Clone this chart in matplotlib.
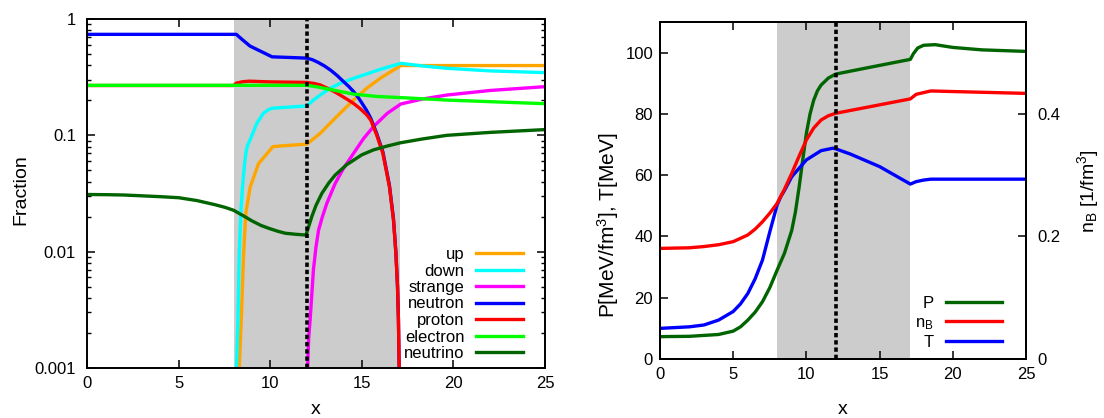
import matplotlib
matplotlib.use("Agg")
import matplotlib.pyplot as plt
from matplotlib.ticker import LogLocator, NullFormatter

plt.rcParams['font.family'] = ['Liberation Sans', 'DejaVu Sans']
plt.rcParams['mathtext.fontset'] = 'custom'
plt.rcParams['mathtext.rm'] = 'Liberation Sans'
plt.rcParams['mathtext.it'] = 'Liberation Sans:italic'
plt.rcParams['mathtext.bf'] = 'Liberation Sans:bold'
plt.rcParams['font.size'] = 12

# ---------------- data ----------------
shade_start, shade_end = 8.0, 17.1
boundary_x = 12.0

# left panel: fractions
x_up = [8.30, 8.42, 8.55, 8.67, 8.91, 9.36, 10.15, 11.0, 12.0, 12.73, 13.27, 13.82, 14.55, 15.27,
        16.0, 17.13, 20.0, 25.0]
up = [0.0009, 0.0026, 0.0097, 0.0215, 0.036, 0.057, 0.080, 0.082, 0.084, 0.104, 0.127, 0.155, 0.201,
      0.254, 0.309, 0.398, 0.398, 0.398]

x_down = [8.15, 8.24, 8.31, 8.4, 8.49, 8.58, 8.67, 8.76, 8.9, 9.27, 9.63, 9.9, 10.1, 12.0, 12.36,
          12.73, 13.27, 13.82, 14.55, 15.27, 16.0, 17.13, 18.3, 19.64, 22.0, 25.0]
down = [0.0009, 0.0026, 0.0097, 0.022, 0.036, 0.053, 0.070, 0.082, 0.091, 0.127, 0.155, 0.166, 0.171,
        0.179, 0.201, 0.222, 0.254, 0.28, 0.309, 0.337, 0.369, 0.416, 0.395, 0.377, 0.358, 0.346]

x_strange = [12.03, 12.1, 12.18, 12.36, 12.5, 12.64, 12.85, 13.09, 13.55, 14.0, 14.55, 15.1, 15.64,
             16.4, 17.13, 18.3, 19.64, 22.0, 25.0]
strange = [0.0009, 0.0018, 0.0026, 0.007, 0.011, 0.0153, 0.020, 0.026, 0.0387, 0.052, 0.07, 0.094,
           0.119, 0.155, 0.186, 0.205, 0.222, 0.243, 0.262]

x_neutron = [0, 8.15, 8.5, 8.9, 10.1, 12.0, 12.3, 12.6, 12.95, 13.3, 13.65, 14.0, 14.3, 14.57, 14.8,
             15.0, 15.25, 15.49, 15.8, 16.15, 16.51, 16.73, 16.86, 16.95, 17.0, 17.05]
neutron = [0.738, 0.738, 0.66, 0.585, 0.473, 0.461, 0.447, 0.425, 0.396, 0.363, 0.327, 0.29, 0.262,
           0.236, 0.212, 0.19, 0.165, 0.14, 0.105, 0.072, 0.037, 0.019, 0.0099, 0.005, 0.0026, 0.0008]

x_proton = [0, 8.0, 8.15, 8.5, 8.85, 10.0, 12.0, 12.4, 12.73, 13.1, 13.45, 13.82, 14.2, 14.55, 14.9,
            15.27, 15.49, 15.8, 16.15, 16.51, 16.73, 16.86, 16.95, 17.0, 17.05]
proton = [0.268, 0.268, 0.281, 0.289, 0.292, 0.288, 0.285, 0.279, 0.271, 0.255, 0.24, 0.222, 0.204,
          0.188, 0.17, 0.15, 0.135, 0.102, 0.070, 0.036, 0.0187, 0.0097, 0.005, 0.0026, 0.0008]

x_electron = [0, 12.0, 12.5, 13.27, 14.55, 15.8, 17.13, 19.64, 25.0]
electron = [0.269, 0.269, 0.262, 0.248, 0.226, 0.216, 0.211, 0.201, 0.187]

x_neutrino = [0, 1, 2, 3, 4, 5, 6, 7, 7.55, 8, 8.64, 9, 9.5, 9.91, 10.4, 10.82, 11.4, 11.95, 12.05,
              12.27, 12.5, 12.82, 13.2, 13.55, 14.18, 15.0, 15.64, 16.4, 17.13, 18.3, 19.64, 22.0, 25.0]
neutrino = [0.031, 0.0309, 0.0307, 0.0302, 0.0297, 0.0291, 0.0275, 0.0253, 0.024, 0.0227, 0.0199,
            0.0184, 0.0168, 0.0159, 0.015, 0.0144, 0.0141, 0.0139, 0.0155, 0.020, 0.025, 0.0317, 0.039,
            0.0456, 0.056, 0.068, 0.075, 0.081, 0.0864, 0.093, 0.1, 0.106, 0.112]

fraction_ticks = [0.001, 0.01, 0.1, 1]
fraction_labels = ['0.001', '0.01', '0.1', '1']

# right panel
x_P = [0, 2, 4, 5, 5.5, 6, 6.5, 7, 7.5, 8, 8.5, 9, 9.25, 9.5, 9.75, 10, 10.25, 10.5, 10.75, 11, 11.5,
       12, 14, 17.1, 17.3, 17.6, 18, 18.8, 20, 22, 25]
P = [7.3, 7.4, 8.0, 9.1, 10.5, 12.7, 15.3, 18.7, 23.3, 29, 34.5, 42, 48, 56, 65, 73.7, 80, 84.5, 87.5,
     89.4, 91.7, 93, 94.9, 97.8, 99.6, 101.5, 102.4, 102.6, 101.7, 100.9, 100.4]

x_nB = [0, 2, 3, 4, 5, 6, 6.5, 7, 7.5, 8, 8.5, 9, 9.5, 10, 10.5, 11, 11.5, 12, 17.1, 17.5, 18.5, 20, 25]
nB = [0.1805, 0.1815, 0.1835, 0.1865, 0.1915, 0.2025, 0.212, 0.224, 0.238, 0.254, 0.277, 0.303, 0.331,
      0.3575, 0.377, 0.39, 0.397, 0.401, 0.4245, 0.432, 0.4375, 0.4365, 0.4335]

x_T = [0, 2, 3, 4, 5, 5.5, 6, 6.5, 7, 7.5, 8, 8.25, 8.5, 9, 10, 11, 11.8, 12, 13, 15, 17.1, 17.5, 18,
       18.5, 25]
T = [10, 10.5, 11.1, 12.7, 15.5, 18, 21.4, 26.2, 32.3, 41.5, 50.3, 53, 55, 59.5, 65, 68, 68.8, 68.6,
     66.9, 62.8, 57.1, 57.9, 58.4, 58.7, 58.7]

x_ticks = [0, 5, 10, 15, 20, 25]
left_ticks = [0, 20, 40, 60, 80, 100]
right_ticks = [0, 0.2, 0.4]
right_labels = ['0', '0.2', '0.4']

# ---------------- figure ----------------
W, H = 1104, 418
fig = plt.figure(figsize=(W / 100, H / 100), dpi=100)

def frac(l, t, r, b):
    return [l / W, 1 - b / H, (r - l) / W, (b - t) / H]

LW = 2.4
shade_col = '#cccccc'
LABEL_FS = 14

def style_axes(ax):
    for s in ax.spines.values():
        s.set_linewidth(1.4)
    ax.tick_params(which='major', direction='in', length=6, width=1.1, top=True, right=True, pad=6)
    ax.tick_params(which='minor', direction='in', length=3, width=1.0, top=True, right=True)

# left
ax1 = fig.add_axes(frac(87, 19, 545, 368))
ax1.axvspan(shade_start, shade_end, color=shade_col, lw=0, zorder=0)
ax1.set_yscale('log')
ax1.plot(x_up, up, color='#ffa500', lw=LW, label='up')
ax1.plot(x_down, down, color='#00ffff', lw=LW, label='down')
ax1.plot(x_strange, strange, color='#ff00ff', lw=LW, label='strange')
ax1.plot(x_neutron, neutron, color='#0000ff', lw=LW, label='neutron')
ax1.plot(x_proton, proton, color='#ff0000', lw=LW, label='proton')
ax1.plot(x_electron, electron, color='#00ff00', lw=LW, label='electron')
ax1.plot(x_neutrino, neutrino, color='#006400', lw=LW, label='neutrino')
ax1.axvline(boundary_x, color='black', lw=2.6, dashes=(1.2, 0.8), zorder=5)
ax1.set_xlim(0, 25)
ax1.set_ylim(1e-3, 1)
ax1.set_xticks(x_ticks)
ax1.set_yticks(fraction_ticks)
ax1.set_yticklabels(fraction_labels)
ax1.yaxis.set_minor_locator(LogLocator(base=10, subs=range(2, 10)))
ax1.yaxis.set_minor_formatter(NullFormatter())
style_axes(ax1)
ax1.tick_params(axis='y', which='major', pad=8)
ax1.legend(loc='lower right', bbox_to_anchor=((523 - 87) / 458, (368 - 361) / 349),
           frameon=False, markerfirst=False, handlelength=2.85, handletextpad=0.65,
           labelspacing=0.09, borderpad=0, borderaxespad=0, fontsize=12)
fig.text(21 / W, 1 - 190 / H, 'Fraction', rotation=90, ha='center', va='center', fontsize=LABEL_FS)
fig.text(316 / W, 1 - 409 / H, 'x', ha='center', va='center', fontsize=LABEL_FS)

# right
ax2 = fig.add_axes(frac(660, 22, 1026, 359))
ax2.axvspan(shade_start, shade_end, color=shade_col, lw=0, zorder=0)
ax3 = ax2.twinx()
lP, = ax2.plot(x_P, P, color='#006400', lw=LW, label='P')
lT, = ax2.plot(x_T, T, color='#0000ff', lw=LW, label='T')
lN, = ax3.plot(x_nB, nB, color='#ff0000', lw=LW, label=r'n$_\mathrm{B}$')
ax3.axvline(boundary_x, color='black', lw=2.6, dashes=(1.2, 0.8), zorder=5)
ax2.set_xlim(0, 25)
ax2.set_ylim(0, 110)
ax3.set_ylim(0, 0.55)
ax2.set_xticks(x_ticks)
ax2.set_yticks(left_ticks)
ax3.set_yticks(right_ticks)
ax3.set_yticklabels(right_labels)
style_axes(ax2)
ax2.tick_params(right=False)
ax2.tick_params(axis='y', pad=5)
for s in ax3.spines.values():
    s.set_linewidth(1.4)
ax3.tick_params(direction='in', length=6, width=1.1, pad=8)
ax3.legend([lP, lN, lT], ['P', r'n$_\mathrm{B}$', 'T'], loc='lower right',
           bbox_to_anchor=((1002 - 660) / 366, (359 - 350) / 337), frameon=False, markerfirst=False,
           handlelength=3.35, handletextpad=0.75, labelspacing=0.21, borderpad=0, borderaxespad=0,
           fontsize=12)
fig.text(608 / W, 1 - 225 / H, r'P[MeV/fm$^3$], T[MeV]', rotation=90, ha='center', va='center', fontsize=15)
fig.text(1088 / W, 1 - 191 / H, r'n$_\mathrm{B}$ [1/fm$^3$]', rotation=90, ha='center', va='center', fontsize=LABEL_FS)
fig.text(843 / W, 1 - 409 / H, 'x', ha='center', va='center', fontsize=LABEL_FS)

fig.savefig('out.png', dpi=100)
